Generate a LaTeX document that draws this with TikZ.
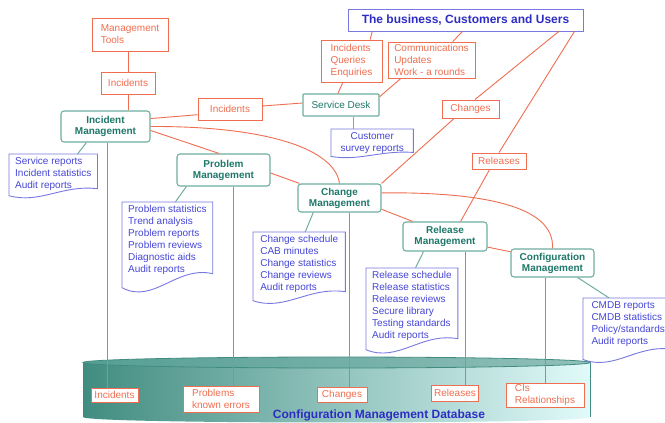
\documentclass[tikz,border=0pt]{standalone}
\usepackage{fontspec}
\setmainfont{Liberation Sans}
\usetikzlibrary{calc}
\definecolor{itilorange}{RGB}{240,110,80}
\definecolor{itilteal}{RGB}{30,120,105}
\definecolor{tealedge}{RGB}{110,175,160}
\definecolor{itilblue}{RGB}{70,70,215}
\definecolor{docedge}{RGB}{120,120,225}
\definecolor{titleblue}{RGB}{45,45,195}
\definecolor{cyldark}{RGB}{65,140,128}
\definecolor{cylmid}{RGB}{175,212,206}
\definecolor{cyllight}{RGB}{225,250,250}
\definecolor{cyltop}{RGB}{85,158,148}

% report sheet: node, drop, rise
\newcommand{\docoutline}[3]{%
  \draw[docpath] (#1.north west) -- ([yshift=-#2pt]#1.south west)
    .. controls ([yshift=-#2pt-1.2*#3pt]$(#1.south west)!0.35!(#1.south east)$)
    and ([yshift=-#2pt+1.6*#3pt]$(#1.south west)!0.6!(#1.south east)$)
    .. ([yshift=-#2pt+#3pt]#1.south east) -- (#1.north east) -- cycle;}

\begin{document}
\begin{tikzpicture}[x=1pt,y=-1pt,
  every node/.style={font=\fontsize{10}{12}\selectfont},
  tag/.style={draw=itilorange, line width=0.9pt, fill=white, text=itilorange, align=left, inner xsep=3pt, inner ysep=1pt},
  mgmt/.style={draw=tealedge, line width=1.1pt, rounded corners=3pt, fill=white, text=itilteal, align=center, font=\fontsize{10}{11}\selectfont\bfseries, inner sep=2pt},
  desk/.style={mgmt, rounded corners=1pt, font=\fontsize{10}{12}\selectfont},
  titlebox/.style={draw=docedge, line width=0.9pt, fill=white, text=titleblue, font=\fontsize{12}{14}\selectfont\bfseries},
  doc/.style={anchor=north west, text=itilblue, align=left, inner xsep=6pt, inner ysep=3pt},
  docpath/.style={draw=docedge, line width=0.9pt},
  link/.style={draw=itilorange, line width=0.9pt},
  tlink/.style={draw=tealedge, line width=1pt}]
\path[use as bounding box, fill=white] (0,0) rectangle (665,423);

% CMDB cylinder
\shade[left color=cyldark, middle color=cylmid, right color=cyllight] (83,362.5) -- (83,417) .. controls (83,424.3) and (590,424.3) .. (590,417) -- (590,362.5) -- cycle;
\draw[cyldark, line width=0.8pt] (83,362.5) -- (83,417) (590,362.5) -- (590,417);
\shadedraw[left color=cyltop, right color=cyltop!65!white, draw=cyldark, line width=0.8pt] (336.5,362.5) ellipse [x radius=253.5pt, y radius=5.5pt];
\node[font=\fontsize{12}{14}\selectfont\bfseries, text=titleblue] (cmdbtitle) at (379,415) {Configuration Management Database};

% Top row
\node[titlebox, minimum width=235, minimum height=22] (business) at (465.5,20) {The business, Customers and Users};
\node[tag, minimum width=76, minimum height=33] (tools) at (130,34.5) {Management\\Tools};
\node[tag, minimum width=54, minimum height=22] (incA) at (128,83) {Incidents};
\node[tag, minimum width=64, minimum height=22] (incB) at (230,109) {Incidents};
\node[tag, minimum width=61, minimum height=42] (iqe) at (351.5,61) {Incidents\\Queries\\Enquiries};
\node[tag, minimum width=87, minimum height=36] (comms) at (431.5,60) {Communications\\Updates\\Work - a rounds};
\node[tag, minimum width=57, minimum height=18] (changesT) at (470.5,109) {Changes};
\node[tag, minimum width=54, minimum height=16] (releasesT) at (499,161) {Releases};
\node[desk, minimum width=76, minimum height=22] (servicedesk) at (341,105) {Service Desk};

% Management processes
\node[mgmt, minimum width=89, minimum height=31] (incmgmt) at (105.5,126.5) {Incident\\Management};
\node[mgmt, minimum width=93, minimum height=32] (problemmgmt) at (223.5,170) {Problem\\Management};
\node[mgmt, minimum width=83, minimum height=28] (changemgmt) at (339.5,198) {Change\\Management};
\node[mgmt, minimum width=84, minimum height=29] (releasemgmt) at (445,236.5) {Release\\Management};
\node[mgmt, minimum width=83, minimum height=28] (configmgmt) at (552.5,263) {Configuration\\Management};

% Reports
\node[doc, align=center, minimum width=82] (survey) at (331,129) {Customer\\survey reports};
\node[doc, minimum width=88] (servrep) at (9,154) {Service reports\\Incident statistics\\Audit reports};
\node[doc, minimum width=90] (probdoc) at (122,202) {Problem statistics\\Trend analysis\\Problem reports\\Problem reviews\\Diagnostic aids\\Audit reports};
\node[doc, minimum width=92] (changedoc) at (253,232) {Change schedule\\CAB minutes\\Change statistics\\Change reviews\\Audit reports};
\node[doc, minimum width=91] (releasedoc) at (366,268) {Release schedule\\Release statistics\\Release reviews\\Secure library\\Testing standards\\Audit reports};
\node[doc, minimum width=90] (cmdbdoc) at (583,298) {CMDB reports\\CMDB statistics\\Policy/standards\\Audit reports};
\foreach \dname/\dropv/\risev in {servrep/2/7, probdoc/10/14, changedoc/5/9, releasedoc/6/11, cmdbdoc/10/10, survey/0/4}
  \docoutline{\dname}{\dropv}{\risev};

% CMDB contents
\node[tag, minimum width=47, minimum height=14] (cinc) at (114.5,395) {Incidents};
\node[tag, minimum width=76, minimum height=26] (cprob) at (221,399) {Problems\\known errors};
\node[tag, minimum width=50, minimum height=15] (cchg) at (342,394.5) {Changes};
\node[tag, minimum width=46, minimum height=16] (crel) at (455,393) {Releases};
\node[tag, minimum width=78, minimum height=24] (ccis) at (545,395) {CIs\\Relationships};

% Flows
\draw[link] (incA.north) -- (incA.north |- tools.south);
\draw[link] (incA.south) -- (incA.south |- incmgmt.north);
\draw[link] (incmgmt.10) -- (incB.190);
\draw[link] ([yshift=3pt]incB.east) -- ([yshift=2pt]servicedesk.west);
\draw[link] (incmgmt.east) .. controls (270,126) and (335,150) .. (changemgmt.north);
\draw[link] (incmgmt.-5) -- (problemmgmt.105);
\draw[link] ([yshift=-3pt]problemmgmt.east) -- (changemgmt.160);
\draw[link] (changemgmt.-15) -- (releasemgmt.155);
\draw[link] (changemgmt.north east) -- (changesT.210);
\draw[link] (changesT.65) -- (business.-7);
\draw[link] (releasesT.north) -- (business.-6);
\draw[link] (releasesT.222) -- (releasemgmt.44);
\draw[link] (releasemgmt.-14) -- (configmgmt.165);
\draw[link] (changemgmt.7) .. controls (480,192) and (555,205) .. (configmgmt.north);
\draw[link] (business.187) -- (iqe.49);
\draw[link] (business.255) -- (comms.41);
\draw[link] (iqe.248) -- (servicedesk.105);
\draw[link] (comms.211) -- (servicedesk.12);
% Down to the CMDB
\foreach \src/\dst/\dx in {incmgmt/cinc/1.5, problemmgmt/cprob/9.5, changemgmt/cchg/9.5, releasemgmt/crel/20, configmgmt/ccis/-7.5}
  \draw[link] ([xshift=\dx pt]\src.south) -- ([xshift=\dx pt]\src.south |- \dst.north);

% Report links
\draw[tlink] ([xshift=12pt]servicedesk.south) -- ([xshift=12pt]servicedesk.south |- survey.north);
\draw[tlink] (incmgmt.220) -- ([xshift=-20pt]servrep.north east);
\draw[tlink] (problemmgmt.204) -- ([xshift=8pt]probdoc.north);
\draw[tlink] (changemgmt.209) -- ([xshift=6pt]changedoc.north);
\draw[tlink] (releasemgmt.215) -- ([xshift=3.5pt]releasedoc.north);
\draw[tlink] (configmgmt.-30) -- ([xshift=-19pt]cmdbdoc.north);
\end{tikzpicture}
\end{document}
